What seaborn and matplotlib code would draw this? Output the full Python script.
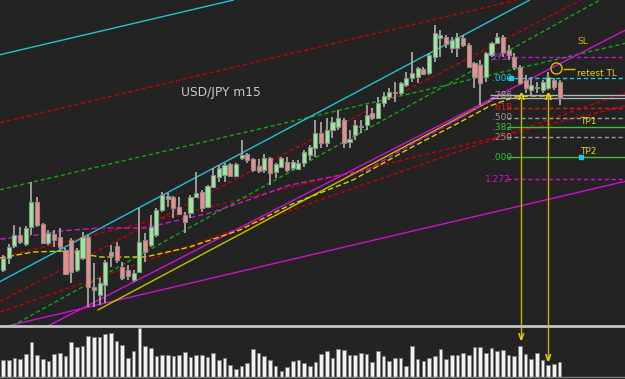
import numpy as np
import pandas as pd
import matplotlib
matplotlib.use("Agg")
import matplotlib.pyplot as plt
import seaborn as sns

# ---------------- data ----------------
opens = [110.60,110.72,110.84,110.95,110.86,111.03,111.28,111.06,110.87,110.96,
         110.93,110.80,110.90,110.60,110.72,110.93,110.43,110.35,110.45,110.78,
         110.84,110.63,110.60,110.50,110.58,110.90,110.85,110.95,111.20,111.34,
         111.33,111.23,111.15,111.17,111.33,111.38,111.23,111.43,111.53,111.55,
         111.66,111.54,111.72,111.76,111.71,111.64,111.60,111.72,111.58,111.63,
         111.68,111.62,111.61,111.67,111.75,111.82,111.97,111.87,112.00,112.03,
         112.10,111.88,111.95,112.03,112.05,112.17,112.12,112.27,112.33,112.37,
         112.37,112.45,112.52,112.53,112.61,112.57,112.73,112.92,112.93,112.82,
         112.82,112.92,112.85,112.67,112.65,112.53,112.75,112.87,112.93,112.80,
         112.73,112.63,112.50,112.40,112.42,112.40,112.42,112.50,112.48]
closes = [110.72,110.83,110.95,110.88,111.02,111.28,111.05,110.87,110.97,110.90,
          110.83,110.56,110.58,110.80,110.93,110.43,110.40,110.47,110.68,110.74,
          110.70,110.52,110.54,110.57,110.88,110.78,111.03,111.20,111.35,111.31,
          111.22,111.16,111.08,111.33,111.37,111.22,111.44,111.55,111.62,111.65,
          111.54,111.66,111.75,111.70,111.60,111.59,111.72,111.57,111.66,111.72,
          111.60,111.68,111.67,111.78,111.83,111.97,111.87,112.00,112.08,112.12,
          111.87,111.91,112.05,112.04,112.15,112.12,112.27,112.34,112.38,112.38,
          112.47,112.52,112.57,112.62,112.56,112.75,112.97,112.95,112.86,112.90,
          112.93,112.85,112.63,112.53,112.47,112.77,112.87,112.93,112.77,112.75,
          112.63,112.47,112.42,112.45,112.43,112.48,112.53,112.43,112.32]
highs = [110.75,110.86,111.05,111.03,111.04,111.48,111.33,111.07,111.00,111.00,
         111.02,110.82,110.92,110.82,110.98,110.95,110.67,110.52,110.70,110.85,
         110.88,110.68,110.65,110.60,111.22,110.97,111.15,111.22,111.38,111.37,
         111.34,111.33,111.18,111.35,111.58,111.40,111.45,111.62,111.65,111.67,
         111.67,111.67,111.90,111.77,111.72,111.71,111.76,111.73,111.67,111.73,
         111.73,111.70,111.70,111.80,111.85,112.10,112.08,112.12,112.13,112.20,
         112.12,112.00,112.10,112.10,112.25,112.22,112.33,112.38,112.42,112.48,
         112.48,112.58,112.78,112.63,112.63,112.77,113.05,113.00,112.95,112.93,
         112.97,112.95,112.87,112.68,112.70,112.78,112.88,112.97,112.95,112.85,
         112.77,112.65,112.55,112.53,112.48,112.50,112.58,112.52,112.50]
lows = [110.58,110.66,110.82,110.86,110.84,110.95,111.03,110.86,110.85,110.83,
        110.81,110.55,110.47,110.58,110.70,110.23,110.23,110.25,110.27,110.63,
        110.67,110.50,110.50,110.48,110.57,110.68,110.83,110.93,111.18,111.23,
        111.12,111.15,110.97,111.12,111.33,111.18,111.23,111.42,111.48,111.48,
        111.53,111.53,111.70,111.67,111.58,111.57,111.57,111.45,111.52,111.62,
        111.58,111.60,111.60,111.63,111.70,111.73,111.82,111.83,111.92,112.00,
        111.82,111.82,111.90,111.97,112.00,112.10,112.12,112.23,112.30,112.28,
        112.35,112.43,112.48,112.47,112.55,112.55,112.68,112.73,112.82,112.77,
        112.73,112.83,112.62,112.42,112.25,112.48,112.73,112.87,112.73,112.70,
        112.60,112.45,112.37,112.35,112.37,112.37,112.40,112.40,112.25]
volumes = [520,510,570,540,720,1060,670,540,490,700,
           740,640,1090,910,940,1270,1230,1240,1310,1350,
           1120,970,590,790,1500,950,880,640,670,670,
           640,670,780,610,690,680,610,740,520,570,
           370,250,330,440,850,740,640,520,340,190,
           310,490,520,430,340,450,720,790,590,850,
           820,670,670,740,700,460,800,650,490,590,
           580,350,950,550,500,570,640,850,540,680,
           690,740,680,910,910,750,880,810,820,670,
           650,960,710,550,730,530,370,410,470]

# trend lines: price at bar 0 and bar 100
trend_colors = ["#22c4d4", "#c80000", "#10a810", "#c80000", "#d010d0",
                "#22c4d4", "#c80000", "#10a810", "#c80000", "#d010d0"]
trend_styles = ["solid", "dash", "dash", "dash", "solid",
                "solid", "dash", "dash", "dash", "solid"]
trend_p0 = [112.76, 112.08, 111.41, 110.73, 110.03, 110.50, 110.30, 109.99, 110.19, 109.81]
trend_p100 = [114.09, 113.43, 112.74, 112.11, 111.36, 113.52, 113.25, 113.14, 112.18, 112.72]

# yellow support trendline segment
tl_idx = [16.7, 86.1]
tl_price = [110.20, 112.30]

# moving-average like curves
ma1_idx = [-0.5, 5.3, 11.3, 17.1, 25.0, 32.9, 41.7, 50.5, 61.6, 71.7, 80.5, 85.7, 90.1, 92.8, 96.7]
ma1_price = [110.72, 110.78, 110.79, 110.73, 110.73, 110.83, 111.00, 111.25, 111.50, 111.82,
             112.08, 112.24, 112.33, 112.34, 112.34]
ma2_idx = [-0.5, 4.75, 10.0, 17.1, 25.0, 30.3, 36.4, 41.7, 50.5, 64.1, 71.7, 80.5, 87.5]
ma2_price = [110.91, 110.94, 110.99, 111.02, 111.02, 111.09, 111.17, 111.27, 111.45, 111.60,
             111.85, 112.12, 112.35]

# fibonacci levels
fib_labels = ["272", ".000", ".786", ".618", ".500", ".382", ".250", ".000", "1.272"]
fib_prices = [112.73, 112.52, 112.34, 112.22, 112.12, 112.03, 111.93, 111.73, 111.51]
fib_colors = ["#d010d0", "#20c8e0", "#a0a0a0", "#e01818", "#9a9a9a", "#38c038", "#9a9a9a", "#38c038", "#d010d0"]
fib_styles = ["dash", "dash", "double", "dash", "dash", "solid", "dash", "solid", "dash"]

signal_idx = [91.2, 96.0]
signal_vol_tip = [1200, 560]
notes = ["SL", "retest TL", "TP1", "TP2"]
note_prices = [112.89, 112.57, 112.08, 111.78]

# ---------------- drawing ----------------
BG = "#232323"
sns.set_theme(style="dark", rc={"axes.facecolor": BG, "figure.facecolor": BG})
plt.rcParams['font.family'] = ['DejaVu Sans']

fig = plt.figure(figsize=(6.25, 3.79), dpi=100)
ax = fig.add_axes([0, 1 - 326 / 379, 1, 326 / 379])
axv = fig.add_axes([0, 2 / 379, 1, 49.5 / 379])

XMIN, XMAX = -0.53, 109.5
DASH = (0, (3, 2))

def style_of(s):
    return {"solid": "-", "dash": DASH}.get(s, "-")

# trend lines
for c, s, p0, p1 in zip(trend_colors, trend_styles, trend_p0, trend_p100):
    ax.axline((0, p0), (100, p1), color=c, lw=1.0, ls=style_of(s), zorder=1)

ax.plot(tl_idx, tl_price, color="#c8c000", lw=1.0, zorder=1)
sns.lineplot(x=ma1_idx, y=ma1_price, ax=ax, color="#d8d000", lw=1.0, linestyle=(0, (4, 2)),
             sort=False, zorder=1)
sns.lineplot(x=ma2_idx, y=ma2_price, ax=ax, color="#c818c8", lw=1.0, linestyle=(0, (4, 2)),
             sort=False, zorder=1)

# candles
idx = np.arange(len(opens))
o = np.array(opens); c = np.array(closes); h = np.array(highs); l = np.array(lows)
ax.vlines(idx, l, h, color="#b0b0b0", lw=1.2, zorder=3)
bull = c >= o
body_bottom = np.minimum(o, c)
body_h = np.maximum(np.abs(c - o), 0.012)
ax.bar(idx[bull], body_h[bull], bottom=body_bottom[bull], width=0.72,
       color="#98ec98", edgecolor="#8c8c8c", lw=0.8, zorder=4)
ax.bar(idx[~bull], body_h[~bull], bottom=body_bottom[~bull], width=0.72,
       color="#f08c8c", edgecolor="#8c8c8c", lw=0.8, zorder=4)

# fib levels
line_start = 88.7
for lab, p, col, s in zip(fib_labels, fib_prices, fib_colors, fib_styles):
    if s == "double":
        ax.hlines([p + 0.012, p - 0.018], 85.7, XMAX, color="#b4b4b4", lw=1.0, zorder=2)
    else:
        ax.hlines(p, line_start, XMAX, color=col, lw=1.0, ls=style_of(s), zorder=2)
    xl = 84.9 if lab == "1.272" else 86.0
    ax.text(xl, p, lab, color=col, fontsize=6.5, ha="left", va="center", zorder=5)

ax.plot([89.4], [fib_prices[1]], marker="s", ms=2.5, color="#20c8e0", zorder=5)
ax.plot([101.8], [fib_prices[7]], marker="s", ms=2.5, color="#20c8e0", zorder=5)

# signals
for si in signal_idx:
    ax.vlines(si, 109.9, fib_prices[2], color="#c8b400", lw=1.0, zorder=5)
    ax.text(si, fib_prices[2] - 0.02, "Λ", color="#e8d000", fontsize=6.5, ha="center",
            va="center", fontweight="bold", zorder=6)
ax.plot([97.4], [112.62], marker="o", ms=8, mfc="none", mec="#d8c000", mew=1.0, zorder=6)
ax.hlines(112.61, 98.6, 100.7, color="#d8c000", lw=1.0, zorder=6)

note_cols = ["#e0b010", "#e8d020", "#e8d020", "#e8d020"]
note_x = [101.2, 101.0, 101.6, 101.6]
for t, p, col, xx in zip(notes, note_prices, note_cols, note_x):
    ax.text(xx, p, t, color=col, fontsize=6.5, ha="left", va="center", zorder=6)

ax.text(31.3, 112.38, "USD/JPY m15", color="#c8c8c8", fontsize=8.8, ha="left", va="center")

ax.set_xlim(XMIN, XMAX)
ax.set_ylim(110.04, 113.30)
ax.set_xticks([]); ax.set_yticks([])
ax.set_xlabel(""); ax.set_ylabel("")
for sp in ["top", "left", "right"]:
    ax.spines[sp].set_visible(False)
ax.spines["bottom"].set_color("#c4c4c4")
ax.spines["bottom"].set_linewidth(2.0)

# volume panel
vdf = pd.DataFrame({"bar": idx, "volume": volumes})
sns.barplot(data=vdf, x="bar", y="volume", native_scale=True, ax=axv, color="#f2f2f2",
            edgecolor="#7a7a7a", linewidth=0.6, width=0.64, errorbar=None, saturation=1)
for si, tip in zip(signal_idx, signal_vol_tip):
    axv.vlines(si, tip, 1600, color="#c8b400", lw=1.0, zorder=5)
    axv.text(si, tip, "V", color="#e8d000", fontsize=6, ha="center", va="center",
             fontweight="bold", zorder=6)
axv.set_xlim(XMIN, XMAX)
axv.set_ylim(0, 1520)
axv.set_xticks([]); axv.set_yticks([])
axv.set_xlabel(""); axv.set_ylabel("")
for sp in ["top", "left", "right"]:
    axv.spines[sp].set_visible(False)
axv.spines["bottom"].set_color("#7a7a7a")
axv.spines["bottom"].set_linewidth(1.0)

fig.savefig("out.png", dpi=100, facecolor=BG)
